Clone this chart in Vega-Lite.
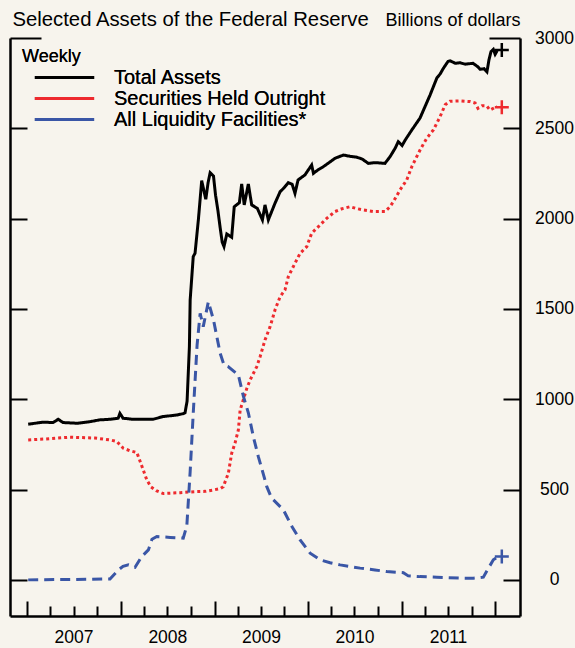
{
  "$schema": "https://vega.github.io/schema/vega-lite/v6.json",
  "width": 510,
  "height": 578,
  "autosize": {"type": "none"},
  "padding": {"left": 10, "top": 38, "right": 55, "bottom": 32},
  "background": "#f7f4ed",
  "config": {"view": {"stroke": null}, "font": "Liberation Sans", "legend": {"rowPadding": -3}},
  "datasets": {
    "weekly": [
      {"series": "Total Assets", "date": "2007-01-05", "value": 862},
      {"series": "Total Assets", "date": "2007-03-04", "value": 873},
      {"series": "Total Assets", "date": "2007-04-12", "value": 871},
      {"series": "Total Assets", "date": "2007-05-02", "value": 889},
      {"series": "Total Assets", "date": "2007-05-21", "value": 871},
      {"series": "Total Assets", "date": "2007-07-15", "value": 867},
      {"series": "Total Assets", "date": "2007-09-03", "value": 876},
      {"series": "Total Assets", "date": "2007-10-12", "value": 886},
      {"series": "Total Assets", "date": "2007-11-20", "value": 889},
      {"series": "Total Assets", "date": "2007-12-22", "value": 895},
      {"series": "Total Assets", "date": "2007-12-29", "value": 922},
      {"series": "Total Assets", "date": "2008-01-10", "value": 895},
      {"series": "Total Assets", "date": "2008-02-18", "value": 889},
      {"series": "Total Assets", "date": "2008-05-06", "value": 889},
      {"series": "Total Assets", "date": "2008-06-14", "value": 904},
      {"series": "Total Assets", "date": "2008-08-08", "value": 913},
      {"series": "Total Assets", "date": "2008-08-31", "value": 920},
      {"series": "Total Assets", "date": "2008-09-08", "value": 925},
      {"series": "Total Assets", "date": "2008-09-16", "value": 990},
      {"series": "Total Assets", "date": "2008-09-25", "value": 1291},
      {"series": "Total Assets", "date": "2008-09-28", "value": 1550},
      {"series": "Total Assets", "date": "2008-10-10", "value": 1790},
      {"series": "Total Assets", "date": "2008-10-17", "value": 1808},
      {"series": "Total Assets", "date": "2008-10-30", "value": 1993},
      {"series": "Total Assets", "date": "2008-11-12", "value": 2210},
      {"series": "Total Assets", "date": "2008-11-28", "value": 2107},
      {"series": "Total Assets", "date": "2008-12-07", "value": 2200},
      {"series": "Total Assets", "date": "2008-12-15", "value": 2254},
      {"series": "Total Assets", "date": "2008-12-28", "value": 2236},
      {"series": "Total Assets", "date": "2009-01-05", "value": 2130},
      {"series": "Total Assets", "date": "2009-01-14", "value": 2048},
      {"series": "Total Assets", "date": "2009-01-23", "value": 1950},
      {"series": "Total Assets", "date": "2009-01-31", "value": 1870},
      {"series": "Total Assets", "date": "2009-02-07", "value": 1845},
      {"series": "Total Assets", "date": "2009-02-18", "value": 1915},
      {"series": "Total Assets", "date": "2009-03-09", "value": 1897},
      {"series": "Total Assets", "date": "2009-03-19", "value": 2066},
      {"series": "Total Assets", "date": "2009-04-08", "value": 2088},
      {"series": "Total Assets", "date": "2009-04-17", "value": 2192},
      {"series": "Total Assets", "date": "2009-04-27", "value": 2076},
      {"series": "Total Assets", "date": "2009-05-13", "value": 2192},
      {"series": "Total Assets", "date": "2009-05-26", "value": 2076},
      {"series": "Total Assets", "date": "2009-06-17", "value": 2057},
      {"series": "Total Assets", "date": "2009-07-07", "value": 1993},
      {"series": "Total Assets", "date": "2009-07-17", "value": 2076},
      {"series": "Total Assets", "date": "2009-07-30", "value": 1993},
      {"series": "Total Assets", "date": "2009-08-25", "value": 2085},
      {"series": "Total Assets", "date": "2009-09-14", "value": 2149},
      {"series": "Total Assets", "date": "2009-09-29", "value": 2170},
      {"series": "Total Assets", "date": "2009-10-16", "value": 2199},
      {"series": "Total Assets", "date": "2009-10-31", "value": 2190},
      {"series": "Total Assets", "date": "2009-11-11", "value": 2140},
      {"series": "Total Assets", "date": "2009-11-23", "value": 2214},
      {"series": "Total Assets", "date": "2009-12-20", "value": 2242},
      {"series": "Total Assets", "date": "2010-01-15", "value": 2297},
      {"series": "Total Assets", "date": "2010-01-22", "value": 2251},
      {"series": "Total Assets", "date": "2010-02-09", "value": 2270},
      {"series": "Total Assets", "date": "2010-03-02", "value": 2288},
      {"series": "Total Assets", "date": "2010-03-24", "value": 2310},
      {"series": "Total Assets", "date": "2010-04-16", "value": 2334},
      {"series": "Total Assets", "date": "2010-05-19", "value": 2352},
      {"series": "Total Assets", "date": "2010-06-14", "value": 2345},
      {"series": "Total Assets", "date": "2010-07-10", "value": 2340},
      {"series": "Total Assets", "date": "2010-07-31", "value": 2330},
      {"series": "Total Assets", "date": "2010-08-24", "value": 2306},
      {"series": "Total Assets", "date": "2010-09-19", "value": 2310},
      {"series": "Total Assets", "date": "2010-10-28", "value": 2306},
      {"series": "Total Assets", "date": "2010-11-17", "value": 2343},
      {"series": "Total Assets", "date": "2010-12-07", "value": 2390},
      {"series": "Total Assets", "date": "2010-12-19", "value": 2426},
      {"series": "Total Assets", "date": "2011-01-03", "value": 2405},
      {"series": "Total Assets", "date": "2011-01-15", "value": 2435},
      {"series": "Total Assets", "date": "2011-02-10", "value": 2491},
      {"series": "Total Assets", "date": "2011-03-14", "value": 2557},
      {"series": "Total Assets", "date": "2011-04-22", "value": 2684},
      {"series": "Total Assets", "date": "2011-05-19", "value": 2780},
      {"series": "Total Assets", "date": "2011-05-31", "value": 2800},
      {"series": "Total Assets", "date": "2011-06-12", "value": 2830},
      {"series": "Total Assets", "date": "2011-07-01", "value": 2870},
      {"series": "Total Assets", "date": "2011-07-09", "value": 2874},
      {"series": "Total Assets", "date": "2011-07-29", "value": 2860},
      {"series": "Total Assets", "date": "2011-08-17", "value": 2863},
      {"series": "Total Assets", "date": "2011-09-06", "value": 2855},
      {"series": "Total Assets", "date": "2011-10-07", "value": 2860},
      {"series": "Total Assets", "date": "2011-10-26", "value": 2840},
      {"series": "Total Assets", "date": "2011-11-03", "value": 2827},
      {"series": "Total Assets", "date": "2011-11-19", "value": 2830},
      {"series": "Total Assets", "date": "2011-11-30", "value": 2813},
      {"series": "Total Assets", "date": "2011-12-08", "value": 2880},
      {"series": "Total Assets", "date": "2011-12-16", "value": 2925},
      {"series": "Total Assets", "date": "2011-12-25", "value": 2937},
      {"series": "Total Assets", "date": "2012-01-01", "value": 2910},
      {"series": "Total Assets", "date": "2012-01-09", "value": 2930},
      {"series": "Securities Held Outright", "date": "2007-01-05", "value": 775},
      {"series": "Securities Held Outright", "date": "2007-03-12", "value": 780},
      {"series": "Securities Held Outright", "date": "2007-06-17", "value": 790},
      {"series": "Securities Held Outright", "date": "2007-09-23", "value": 785},
      {"series": "Securities Held Outright", "date": "2007-11-20", "value": 775},
      {"series": "Securities Held Outright", "date": "2007-12-17", "value": 766},
      {"series": "Securities Held Outright", "date": "2008-01-11", "value": 729},
      {"series": "Securities Held Outright", "date": "2008-02-06", "value": 715},
      {"series": "Securities Held Outright", "date": "2008-03-04", "value": 705},
      {"series": "Securities Held Outright", "date": "2008-03-23", "value": 632},
      {"series": "Securities Held Outright", "date": "2008-04-12", "value": 553},
      {"series": "Securities Held Outright", "date": "2008-04-28", "value": 515},
      {"series": "Securities Held Outright", "date": "2008-05-21", "value": 492},
      {"series": "Securities Held Outright", "date": "2008-06-15", "value": 478},
      {"series": "Securities Held Outright", "date": "2008-08-20", "value": 483},
      {"series": "Securities Held Outright", "date": "2008-10-24", "value": 489},
      {"series": "Securities Held Outright", "date": "2008-11-25", "value": 490},
      {"series": "Securities Held Outright", "date": "2008-12-28", "value": 498},
      {"series": "Securities Held Outright", "date": "2009-01-23", "value": 505},
      {"series": "Securities Held Outright", "date": "2009-02-04", "value": 516},
      {"series": "Securities Held Outright", "date": "2009-02-24", "value": 590},
      {"series": "Securities Held Outright", "date": "2009-03-09", "value": 701},
      {"series": "Securities Held Outright", "date": "2009-03-22", "value": 757},
      {"series": "Securities Held Outright", "date": "2009-04-04", "value": 830},
      {"series": "Securities Held Outright", "date": "2009-04-11", "value": 940},
      {"series": "Securities Held Outright", "date": "2009-05-07", "value": 1060},
      {"series": "Securities Held Outright", "date": "2009-05-20", "value": 1107},
      {"series": "Securities Held Outright", "date": "2009-06-15", "value": 1181},
      {"series": "Securities Held Outright", "date": "2009-06-28", "value": 1236},
      {"series": "Securities Held Outright", "date": "2009-07-17", "value": 1328},
      {"series": "Securities Held Outright", "date": "2009-08-06", "value": 1402},
      {"series": "Securities Held Outright", "date": "2009-08-25", "value": 1494},
      {"series": "Securities Held Outright", "date": "2009-09-14", "value": 1568},
      {"series": "Securities Held Outright", "date": "2009-10-03", "value": 1605},
      {"series": "Securities Held Outright", "date": "2009-10-16", "value": 1679},
      {"series": "Securities Held Outright", "date": "2009-11-11", "value": 1753},
      {"series": "Securities Held Outright", "date": "2009-12-01", "value": 1808},
      {"series": "Securities Held Outright", "date": "2009-12-27", "value": 1845},
      {"series": "Securities Held Outright", "date": "2010-01-15", "value": 1919},
      {"series": "Securities Held Outright", "date": "2010-02-17", "value": 1965},
      {"series": "Securities Held Outright", "date": "2010-03-15", "value": 2002},
      {"series": "Securities Held Outright", "date": "2010-04-16", "value": 2039},
      {"series": "Securities Held Outright", "date": "2010-05-14", "value": 2055},
      {"series": "Securities Held Outright", "date": "2010-06-14", "value": 2066},
      {"series": "Securities Held Outright", "date": "2010-07-11", "value": 2055},
      {"series": "Securities Held Outright", "date": "2010-08-05", "value": 2048},
      {"series": "Securities Held Outright", "date": "2010-09-13", "value": 2039},
      {"series": "Securities Held Outright", "date": "2010-10-28", "value": 2039},
      {"series": "Securities Held Outright", "date": "2010-11-17", "value": 2066},
      {"series": "Securities Held Outright", "date": "2010-11-30", "value": 2094},
      {"series": "Securities Held Outright", "date": "2010-12-26", "value": 2159},
      {"series": "Securities Held Outright", "date": "2011-01-21", "value": 2214},
      {"series": "Securities Held Outright", "date": "2011-02-10", "value": 2288},
      {"series": "Securities Held Outright", "date": "2011-03-14", "value": 2380},
      {"series": "Securities Held Outright", "date": "2011-04-09", "value": 2445},
      {"series": "Securities Held Outright", "date": "2011-05-05", "value": 2491},
      {"series": "Securities Held Outright", "date": "2011-05-31", "value": 2564},
      {"series": "Securities Held Outright", "date": "2011-06-20", "value": 2630},
      {"series": "Securities Held Outright", "date": "2011-07-09", "value": 2650},
      {"series": "Securities Held Outright", "date": "2011-08-17", "value": 2652},
      {"series": "Securities Held Outright", "date": "2011-09-25", "value": 2648},
      {"series": "Securities Held Outright", "date": "2011-10-15", "value": 2640},
      {"series": "Securities Held Outright", "date": "2011-10-26", "value": 2611},
      {"series": "Securities Held Outright", "date": "2011-11-11", "value": 2625},
      {"series": "Securities Held Outright", "date": "2011-11-29", "value": 2624},
      {"series": "Securities Held Outright", "date": "2011-12-12", "value": 2601},
      {"series": "Securities Held Outright", "date": "2012-01-01", "value": 2616},
      {"series": "Securities Held Outright", "date": "2012-01-09", "value": 2620},
      {"series": "All Liquidity Facilities*", "date": "2007-01-05", "value": 0},
      {"series": "All Liquidity Facilities*", "date": "2007-05-09", "value": 2},
      {"series": "All Liquidity Facilities*", "date": "2007-09-03", "value": 3},
      {"series": "All Liquidity Facilities*", "date": "2007-11-20", "value": 5},
      {"series": "All Liquidity Facilities*", "date": "2007-12-23", "value": 55},
      {"series": "All Liquidity Facilities*", "date": "2008-01-10", "value": 75},
      {"series": "All Liquidity Facilities*", "date": "2008-01-31", "value": 83},
      {"series": "All Liquidity Facilities*", "date": "2008-02-26", "value": 70},
      {"series": "All Liquidity Facilities*", "date": "2008-03-23", "value": 129},
      {"series": "All Liquidity Facilities*", "date": "2008-04-18", "value": 166},
      {"series": "All Liquidity Facilities*", "date": "2008-05-02", "value": 225},
      {"series": "All Liquidity Facilities*", "date": "2008-05-21", "value": 240},
      {"series": "All Liquidity Facilities*", "date": "2008-07-12", "value": 235},
      {"series": "All Liquidity Facilities*", "date": "2008-09-01", "value": 231},
      {"series": "All Liquidity Facilities*", "date": "2008-09-15", "value": 300},
      {"series": "All Liquidity Facilities*", "date": "2008-09-28", "value": 600},
      {"series": "All Liquidity Facilities*", "date": "2008-10-10", "value": 923},
      {"series": "All Liquidity Facilities*", "date": "2008-10-25", "value": 1300},
      {"series": "All Liquidity Facilities*", "date": "2008-11-06", "value": 1476},
      {"series": "All Liquidity Facilities*", "date": "2008-11-18", "value": 1402},
      {"series": "All Liquidity Facilities*", "date": "2008-12-08", "value": 1540},
      {"series": "All Liquidity Facilities*", "date": "2008-12-28", "value": 1439},
      {"series": "All Liquidity Facilities*", "date": "2009-01-11", "value": 1340},
      {"series": "All Liquidity Facilities*", "date": "2009-01-23", "value": 1255},
      {"series": "All Liquidity Facilities*", "date": "2009-02-07", "value": 1190},
      {"series": "All Liquidity Facilities*", "date": "2009-02-23", "value": 1181},
      {"series": "All Liquidity Facilities*", "date": "2009-04-04", "value": 1135},
      {"series": "All Liquidity Facilities*", "date": "2009-04-23", "value": 1020},
      {"series": "All Liquidity Facilities*", "date": "2009-05-13", "value": 925},
      {"series": "All Liquidity Facilities*", "date": "2009-06-02", "value": 790},
      {"series": "All Liquidity Facilities*", "date": "2009-06-21", "value": 682},
      {"series": "All Liquidity Facilities*", "date": "2009-07-17", "value": 553},
      {"series": "All Liquidity Facilities*", "date": "2009-07-24", "value": 516},
      {"series": "All Liquidity Facilities*", "date": "2009-08-12", "value": 452},
      {"series": "All Liquidity Facilities*", "date": "2009-08-19", "value": 443},
      {"series": "All Liquidity Facilities*", "date": "2009-09-27", "value": 387},
      {"series": "All Liquidity Facilities*", "date": "2009-10-30", "value": 295},
      {"series": "All Liquidity Facilities*", "date": "2009-12-01", "value": 221},
      {"series": "All Liquidity Facilities*", "date": "2010-01-09", "value": 148},
      {"series": "All Liquidity Facilities*", "date": "2010-02-17", "value": 111},
      {"series": "All Liquidity Facilities*", "date": "2010-03-28", "value": 95},
      {"series": "All Liquidity Facilities*", "date": "2010-05-06", "value": 83},
      {"series": "All Liquidity Facilities*", "date": "2010-07-23", "value": 65},
      {"series": "All Liquidity Facilities*", "date": "2010-09-19", "value": 55},
      {"series": "All Liquidity Facilities*", "date": "2010-11-04", "value": 46},
      {"series": "All Liquidity Facilities*", "date": "2011-01-08", "value": 40},
      {"series": "All Liquidity Facilities*", "date": "2011-01-27", "value": 22},
      {"series": "All Liquidity Facilities*", "date": "2011-03-14", "value": 18},
      {"series": "All Liquidity Facilities*", "date": "2011-05-18", "value": 15},
      {"series": "All Liquidity Facilities*", "date": "2011-08-17", "value": 10},
      {"series": "All Liquidity Facilities*", "date": "2011-10-08", "value": 9},
      {"series": "All Liquidity Facilities*", "date": "2011-11-16", "value": 15},
      {"series": "All Liquidity Facilities*", "date": "2011-12-06", "value": 65},
      {"series": "All Liquidity Facilities*", "date": "2011-12-25", "value": 111},
      {"series": "All Liquidity Facilities*", "date": "2012-01-09", "value": 125}
    ],
    "latest": [
      {"series": "Total Assets", "date": "2012-01-27", "value": 2934},
      {"series": "Securities Held Outright", "date": "2012-01-27", "value": 2616},
      {"series": "All Liquidity Facilities*", "date": "2012-01-27", "value": 129}
    ]
  },
  "encoding": {
    "x": {
      "field": "date",
      "type": "temporal",
      "scale": {"type": "utc", "domain": [{"year": 2006, "month": 10, "date": 26, "utc": true}, {"year": 2012, "month": 4, "date": 7, "utc": true}]},
      "axis": {
        "orient": "bottom",
        "title": null,
        "grid": false,
        "values": [
          {"year": 2007, "month": 1, "date": 1, "utc": true}, {"year": 2007, "month": 4, "date": 1, "utc": true}, {"year": 2007, "month": 7, "date": 1, "utc": true}, {"year": 2007, "month": 10, "date": 1, "utc": true},
          {"year": 2008, "month": 1, "date": 1, "utc": true}, {"year": 2008, "month": 4, "date": 1, "utc": true}, {"year": 2008, "month": 7, "date": 1, "utc": true}, {"year": 2008, "month": 10, "date": 1, "utc": true},
          {"year": 2009, "month": 1, "date": 1, "utc": true}, {"year": 2009, "month": 4, "date": 1, "utc": true}, {"year": 2009, "month": 7, "date": 1, "utc": true}, {"year": 2009, "month": 10, "date": 1, "utc": true},
          {"year": 2010, "month": 1, "date": 1, "utc": true}, {"year": 2010, "month": 4, "date": 1, "utc": true}, {"year": 2010, "month": 7, "date": 1, "utc": true}, {"year": 2010, "month": 10, "date": 1, "utc": true},
          {"year": 2011, "month": 1, "date": 1, "utc": true}, {"year": 2011, "month": 4, "date": 1, "utc": true}, {"year": 2011, "month": 7, "date": 1, "utc": true}, {"year": 2011, "month": 10, "date": 1, "utc": true},
          {"year": 2012, "month": 1, "date": 1, "utc": true}
        ],
        "domainColor": "#000",
        "domainWidth": 2.5,
        "tickColor": "#000",
        "tickWidth": 2,
        "tickSize": {"condition": {"test": "utcmonth(datum.value) == 0", "value": -15}, "value": -10},
        "labelExpr": "utcmonth(datum.value) == 6 ? utcFormat(datum.value, '%Y') : ''",
        "labelFontSize": 17.5,
        "labelColor": "#000",
        "labelPadding": 22,
        "labelBaseline": "top",
        "labelOverlap": false,
        "labelFlush": false
      }
    }
  },
  "layer": [
    {
      "data": {"name": "weekly"},
      "mark": {"type": "line", "strokeWidth": 3},
      "encoding": {
        "y": {
          "field": "value",
          "type": "quantitative",
          "scale": {"domain": [-200, 3000], "nice": false, "zero": false},
          "axis": {
            "orient": "left",
            "title": "Selected Assets of the Federal Reserve",
            "titleAngle": 0,
            "titleAlign": "left",
            "titleBaseline": "alphabetic",
            "titleX": 2,
            "titleY": -13,
            "titleFontSize": 20.3,
            "titleFontWeight": "normal",
            "titleColor": "#000",
            "grid": false,
            "labels": false,
            "values": [0, 500, 1000, 1500, 2000, 2500, 3000],
            "domainColor": "#000",
            "domainWidth": 2.5,
            "tickColor": "#000",
            "tickWidth": 2,
            "tickSize": {"condition": {"test": "datum.value == 3000", "value": -31}, "value": -17}
          }
        },
        "color": {
          "field": "series",
          "type": "nominal",
          "scale": {"domain": ["Total Assets", "Securities Held Outright", "All Liquidity Facilities*"], "range": ["#000000", "#ee2a2e", "#3a56a6"]},
          "legend": {
            "title": "Weekly", "orient": "none", "legendX": 12, "legendY": 10, "padding": 0,
            "symbolType": "M-3.3,0H3.3", "symbolSize": 324, "symbolStrokeWidth": 3, "symbolOffset": 32,
            "labelOffset": 39, "labelFontSize": 20, "labelLimit": 400, "labelColor": "#000",
            "titleFontSize": 18, "titleFontWeight": "normal", "titleColor": "#000", "titlePadding": 1, "rowPadding": -3
          }
        },
        "strokeDash": {
          "field": "series",
          "type": "nominal",
          "scale": {"domain": ["Total Assets", "Securities Held Outright", "All Liquidity Facilities*"], "range": [[1, 0], [3, 3], [10, 6]]},
          "legend": {
            "title": "Weekly", "orient": "none", "legendX": 12, "legendY": 10, "padding": 0,
            "symbolType": "M-3.3,0H3.3", "symbolSize": 324, "symbolStrokeWidth": 3, "symbolOffset": 32,
            "labelOffset": 39, "labelFontSize": 20, "labelLimit": 400, "labelColor": "#000",
            "titleFontSize": 18, "titleFontWeight": "normal", "titleColor": "#000", "titlePadding": 1, "rowPadding": -3
          }
        }
      }
    },
    {
      "data": {"name": "latest"},
      "mark": {"type": "point", "shape": "M-1,0H1M0,-1V1", "filled": false, "strokeWidth": 2.5, "size": 196, "opacity": 1},
      "encoding": {
        "y": {
          "field": "value",
          "type": "quantitative",
          "scale": {"domain": [-200, 3000], "nice": false, "zero": false},
          "axis": {
            "orient": "right",
            "title": "Billions of dollars",
            "titleAngle": 0,
            "titleAlign": "right",
            "titleBaseline": "alphabetic",
            "titleX": 0,
            "titleY": -13,
            "titleFontSize": 18,
            "titleFontWeight": "normal",
            "titleColor": "#000",
            "grid": false,
            "values": [0, 500, 1000, 1500, 2000, 2500, 3000],
            "format": "d",
            "domainColor": "#000",
            "domainWidth": 2.5,
            "tickColor": "#000",
            "tickWidth": 2,
            "tickSize": {"condition": {"test": "datum.value == 3000", "value": -31}, "value": -17},
            "labelAlign": "center",
            "labelBaseline": "middle",
            "labelPadding": {"condition": {"test": "datum.value == 3000", "value": 65}, "value": 51},
            "labelFontSize": 17.5,
            "labelColor": "#000"
          }
        },
        "color": {
          "field": "series",
          "type": "nominal",
          "scale": {"domain": ["Total Assets", "Securities Held Outright", "All Liquidity Facilities*"], "range": ["#000000", "#ee2a2e", "#3a56a6"]},
          "legend": null
        }
      }
    }
  ],
  "resolve": {"axis": {"y": "independent"}, "legend": {"color": "independent"}}
}
